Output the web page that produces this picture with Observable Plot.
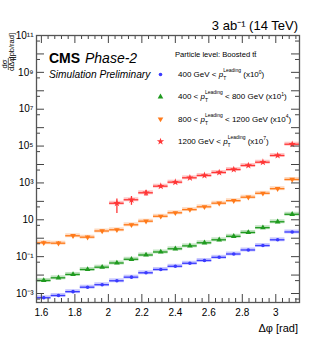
<!DOCTYPE html>
<html><head><meta charset="utf-8">
<script src="https://cdn.jsdelivr.net/npm/d3@7"></script>
<script src="https://cdn.jsdelivr.net/npm/@observablehq/plot@0.6"></script>
<style>
html,body{margin:0;padding:0;background:#fff;}
svg{display:block;}
</style></head><body><div id="chart"></div>
<script>
// ---- data ----
const binCenters = [1.614,1.702,1.789,1.876,1.963,2.051,2.138,2.225,2.313,2.400,2.487,2.574,2.662,2.749,2.836,2.923,3.011,3.098];
const binHalfWidth = 0.0436;
const seriesLabels = ["400 GeV < pT (x10^0)", "400 < pT < 800 GeV (x10^1)", "800 < pT < 1200 GeV (x10^4)", "1200 GeV < pT (x10^7)"];
const blueValues   = [0.00059,0.00078,0.00126,0.0022,0.0030,0.0049,0.0077,0.0133,0.0201,0.030,0.0437,0.062,0.092,0.139,0.23,0.40,0.82,2.18];
const greenValues  = [0.0051,0.0071,0.0108,0.0201,0.0268,0.0453,0.072,0.123,0.179,0.267,0.384,0.565,0.82,1.27,2.05,3.73,7.8,19.9];
const orangeValues = [0.565,0.537,1.36,1.14,2.47,2.87,5.36,8.4,15.5,24,35.7,50.7,79.6,109,168,274,487,1540];
const redValues    = [null,null,null,null,null,79,122,292,665,1100,1900,2540,3690,5360,8830,13300,30800,126000];
const blueRelErr   = [0.12,0.1,0.08,0.06,0.05,0.05,0.04,0.04,0.04,0.04,0.04,0.04,0.04,0.04,0.04,0.04,0.04,0.04];
const greenRelErr  = [0.1,0.08,0.08,0.06,0.06,0.05,0.05,0.05,0.05,0.05,0.05,0.05,0.05,0.05,0.05,0.05,0.05,0.05];
const orangeRelErr = [0.22,0.22,0.15,0.15,0.1,0.1,0.08,0.07,0.06,0.06,0.05,0.05,0.05,0.05,0.05,0.05,0.05,0.05];
const redRelErr    = [0,0,0,0,0,0.72,0.5,0.35,0.2,0.15,0.12,0.1,0.08,0.07,0.06,0.05,0.05,0.05];
const seriesColors = ["#3b3bff","#1f9a1f","#ff7a1a","#ff3636"];
const xTickLabels = [1.6,1.8,2,2.2,2.4,2.6,2.8,3];
const yTickLabels = [1e-3,1e-1,10,1e3,1e5,1e7,1e9,1e11];

// ---- layout ----
const W = 332, H = 341, mt = 35, mr = 33, mb = 39, ml = 36;
const plotH = H - mt - mb, plotW = W - ml - mr;
const xDomain = [Math.PI/2, Math.PI];
const yDomain = [3.25e-4, 1e11];

const triangleDown = {draw(ctx, size){ const s = Math.sqrt(size/ (Math.sqrt(3)/4)); const h = s*Math.sqrt(3)/2; ctx.moveTo(-s/2,-h/3); ctx.lineTo(s/2,-h/3); ctx.lineTo(0,2*h/3); ctx.closePath(); }};
const symbols = ["circle","triangle",triangleDown,"star"];
const radii = [1.8,2.1,2.1,2.3];

const allValues = [blueValues, greenValues, orangeValues, redValues];
const allErr = [blueRelErr, greenRelErr, orangeRelErr, redRelErr];
const seriesRows = allValues.map((vals, s) => vals.map((v, i) => v == null ? null : ({
  s, x: binCenters[i], x1: binCenters[i]-binHalfWidth, x2: binCenters[i]+binHalfWidth,
  y: v, ylo: v*Math.max(0.02, 1-allErr[s][i]), yhi: v*(1+allErr[s][i])
})).filter(d => d));

// ticks
const xMinor = d3.range(1.6, 3.141, 0.04).map(v => +v.toFixed(2)).filter(v => !xTickLabels.some(t => Math.abs(t-v)<1e-6));
const yDecades = d3.range(-3, 12).map(e => Math.pow(10, e));
const yFives = d3.range(-4, 11).map(e => 5*Math.pow(10, e)).filter(v => v > yDomain[0] && v < yDomain[1]);

const supMap = {"0":"⁰","1":"¹","2":"²","3":"³","4":"⁴","5":"⁵","6":"⁶","7":"⁷","8":"⁸","9":"⁹","-":"⁻"};
const yFmt = v => { const e = Math.round(Math.log10(v)); return e === 1 ? "10" : "10" + String(e).split("").map(c => supMap[c]).join(""); };

const marks = [];
seriesRows.forEach((rows, s) => {
  const c = seriesColors[s];
  marks.push(Plot.rect(rows, {x1: "x1", x2: "x2", y1: d => d.y/1.28, y2: d => d.y*1.28, fill: c, fillOpacity: 0.28}));
  marks.push(Plot.ruleY(rows, {y: "y", x1: "x1", x2: "x2", stroke: c, strokeWidth: 1.3}));
  marks.push(Plot.ruleX(rows, {x: "x", y1: "ylo", y2: "yhi", stroke: c, strokeWidth: 1.3}));
  marks.push(Plot.dot(rows, {x: "x", y: "y", symbol: symbols[s], r: radii[s], fill: c, stroke: "none"}));
});

// tick marks (inside frame, all four sides)
const tk = "#444";
marks.push(Plot.tickX(xTickLabels, {insetTop: plotH-8, stroke: tk}));
marks.push(Plot.tickX(xTickLabels, {insetBottom: plotH-8, stroke: tk}));
marks.push(Plot.tickX(xMinor, {insetTop: plotH-4, stroke: tk}));
marks.push(Plot.tickX(xMinor, {insetBottom: plotH-4, stroke: tk}));
marks.push(Plot.tickY(yDecades, {insetRight: plotW-8, stroke: tk}));
marks.push(Plot.tickY(yDecades, {insetLeft: plotW-8, stroke: tk}));
marks.push(Plot.tickY(yFives, {insetRight: plotW-4, stroke: tk}));
marks.push(Plot.tickY(yFives, {insetLeft: plotW-4, stroke: tk}));
marks.push(Plot.frame({stroke: "#555", strokeWidth: 1.3}));

marks.push(Plot.axisX({ticks: xTickLabels, tickSize: 0, tickPadding: 6, fontSize: 10, tickFormat: d => String(d), label: null}));
marks.push(Plot.axisY({ticks: yTickLabels, tickSize: 0, tickPadding: 3, fontSize: 10, tickFormat: yFmt, label: null}));

// legend markers
const legendDy = [39, 61.3, 83.6, 106];
legendDy.forEach((dy, s) => marks.push(Plot.dot([0], {frameAnchor: "top-left", dx: 124, dy, symbol: symbols[s], r: radii[s], fill: seriesColors[s], stroke: "none"})));

// annotations (text)
marks.push(() => {
  const g = d3.create("svg:g").attr("font-family", "Liberation Sans, Arial, Helvetica, sans-serif").attr("fill", "black").attr("text-anchor", "start");
  const t = (x, y, txt, size, opts = {}) => {
    const e = g.append("text").attr("x", x).attr("y", y).attr("font-size", size).attr("text-anchor", opts.anchor || "start").text(txt);
    if (opts.weight) e.attr("font-weight", opts.weight);
    if (opts.style) e.attr("font-style", opts.style);
    return e;
  };
  t(298, 30, "3 ab⁻¹ (14 TeV)", 13, {anchor: "end"});
  t(49, 63, "CMS", 14, {weight: "bold"});
  t(85, 63, "Phase-2", 14, {style: "italic"});
  t(49, 77.5, "Simulation Preliminary", 10.2, {style: "italic"});
  t(175, 57, "Particle level: Boosted tt̄", 7.6);
  // legend entries with p_T^Leading
  const entries = [["400 GeV < ", " (x10", "0", ")"], ["400 < ", " < 800 GeV (x10", "1", ")"], ["800 < ", " < 1200 GeV (x10", "4", ")"], ["1200 GeV < ", " (x10", "7", ")"]];
  entries.forEach((en, k) => {
    const y = 77 + k*22.3;
    const e = g.append("text").attr("x", 178).attr("y", y).attr("font-size", 8).attr("text-anchor", "start");
    e.append("tspan").text(en[0]);
    e.append("tspan").attr("font-style", "italic").text("p");
    e.append("tspan").attr("font-size", 5).attr("dy", 3).text("T");
    e.append("tspan").attr("font-size", 5).attr("dx", -3).attr("dy", -8).text("Leading");
    e.append("tspan").attr("dy", 5).text(en[1]);
    e.append("tspan").attr("font-size", 5).attr("dy", -3.5).text(en[2]);
    e.append("tspan").attr("dy", 3.5).text(en[3]);
  });
  // x axis title
  t(298, 332, "Δφ [rad]", 11, {anchor: "end"});
  // y axis title (rotated)
  const r = g.append("g").attr("transform", "rotate(-90)");
  r.append("text").attr("x", -33).attr("y", 14).attr("font-size", 7.5).attr("text-anchor", "end").text("[pb/rad]");
  r.append("text").attr("x", -64).attr("y", 6.8).attr("font-size", 7.5).attr("text-anchor", "middle").text("dσ");
  r.append("text").attr("x", -64).attr("y", 14.2).attr("font-size", 7.5).attr("text-anchor", "middle").text("dΔφ");
  r.append("line").attr("x1", -70).attr("x2", -58).attr("y1", 8.3).attr("y2", 8.3).attr("stroke", "black").attr("stroke-width", 0.6);
  return g.node();
});

const chart = Plot.plot({
  width: W, height: H, marginTop: mt, marginRight: mr, marginBottom: mb, marginLeft: ml,
  style: {fontFamily: "Liberation Sans, Arial, Helvetica, sans-serif", background: "white", color: "black"},
  x: {domain: xDomain, axis: null},
  y: {type: "log", domain: yDomain, axis: null},
  marks
});
document.getElementById("chart").appendChild(chart);
</script></body></html>
